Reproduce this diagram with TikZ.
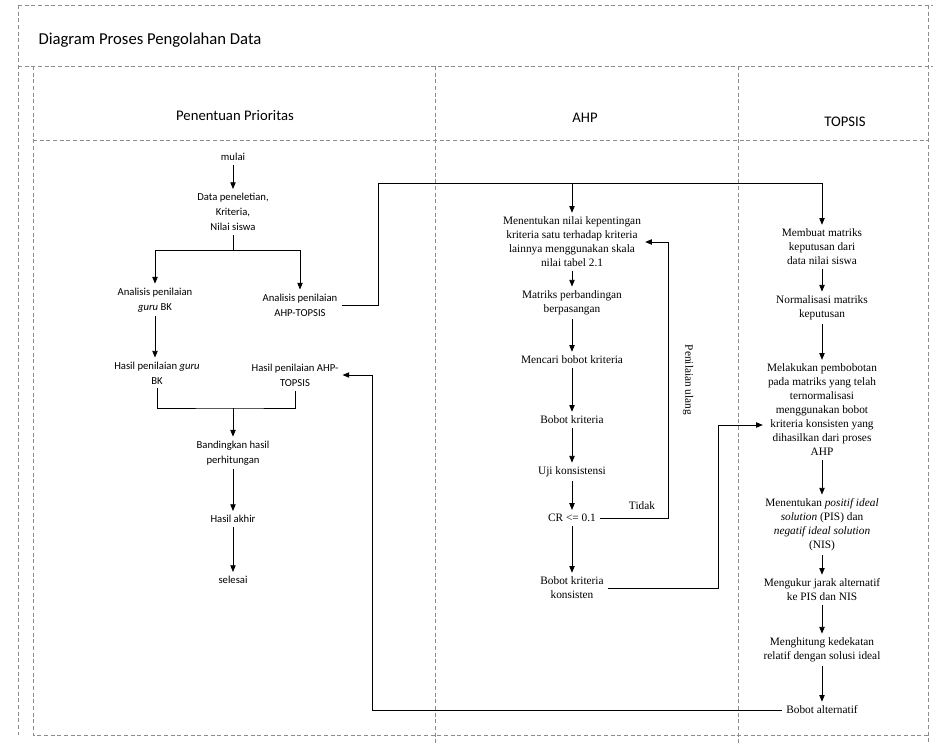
\documentclass[tikz,border=0pt]{standalone}
\usepackage{fontspec}
\setmainfont{Liberation Serif}
\setsansfont{Carlito}
\usepackage{tikz}
\usetikzlibrary{arrows.meta,positioning,calc}

\begin{document}
\begin{tikzpicture}[x=0.75pt, y=-0.75pt,
        lane/.style={black!45, densely dashed, line width=0.4pt},
        hdr/.style={font=\sffamily\fontsize{11}{13}\selectfont, inner sep=1pt},
        lbl/.style={font=\sffamily\fontsize{8}{11.25}\selectfont, align=center, inner sep=3pt},
        stp/.style={font=\fontsize{8.5}{10.5}\selectfont, align=center, inner sep=3pt},
        arr/.style={-{Triangle[length=5pt,width=4pt]}, line width=0.6pt},
        lnk/.style={line width=0.6pt}
      ]
        \useasboundingbox (0,0) rectangle (933,744);
        % swimlane frame
        \draw[lane] (18,5) -- (933,5);
        \draw[lane] (18,5) -- (18,735);
        \draw[lane] (18,66) -- (933,66);
        \draw[lane] (33,66) -- (33,735) -- (928,735);
        \draw[lane] (33,140) -- (928,140);
        \draw[lane] (435,66) -- (435,744);
        \draw[lane] (738,66) -- (738,744);
        \draw[lane] (928,5) -- (928,744);
        \node[hdr, font=\sffamily\fontsize{12.5}{15}\selectfont, anchor=west] (judul) at (37,40) {Diagram Proses Pengolahan Data};
        \node[hdr] (hprio) at (235,116) {Penentuan Prioritas};
        \node[hdr] (hahp) at (585,118) {AHP};
        \node[hdr] (htop) at (845,122) {TOPSIS};

        % Penentuan Prioritas
        \node[lbl] (mulai) at (233,157) {mulai};
        \node[lbl] (data) at (233,212) {Data peneletian,\\Kriteria,\\Nilai siswa};
        \node[lbl] (anbk) at (155,300) {Analisis penilaian\\\textit{guru} BK};
        \node[lbl] (anahp) at (300,305) {Analisis penilaian\\AHP-TOPSIS};
        \node[lbl] (hsbk) at (157,373) {Hasil penilaian \textit{guru}\\BK};
        \node[lbl] (hsahp) at (295,375) {Hasil penilaian AHP-\\TOPSIS};
        \node[lbl] (banding) at (233,453) {Bandingkan hasil\\perhitungan};
        \node[lbl] (akhir) at (233,519) {Hasil akhir};
        \node[lbl] (selesai) at (233,580) {selesai};
        \coordinate (fork) at (233,250);
        \coordinate (join) at (233,408);
        \draw[arr] (mulai) -- (data);
        \draw[lnk] (data) -- (fork);
        \draw[arr] (fork) -| (anbk);
        \draw[arr] (fork) -| (anahp);
        \draw[arr] (anbk.south) -- (anbk.south |- hsbk.north);
        \draw[lnk] (hsbk.south) |- (join) -| (hsahp.south);
        \draw[arr] (join) -- (banding);
        \draw[arr] (banding) -- (akhir);
        \draw[arr] (akhir) -- (selesai);

        % AHP
        \node[stp] (kep) at (572,242) {Menentukan nilai kepentingan\\kriteria satu terhadap kriteria\\lainnya menggunakan skala\\nilai tabel 2.1};
        \node[stp] (mpb) at (572,303) {Matriks perbandingan\\berpasangan};
        \node[stp] (cari) at (572,360) {Mencari bobot kriteria};
        \node[stp] (bobot) at (572,420) {Bobot kriteria};
        \node[stp] (uji) at (572,472) {Uji konsistensi};
        \node[stp] (cr) at (572,518) {CR <= 0.1};
        \node[stp] (konsisten) at (572,588) {Bobot kriteria\\konsisten};
        \draw[arr] (kep) -- (mpb);
        \draw[arr] (mpb) -- (cari);
        \draw[arr] (cari) -- (bobot);
        \draw[arr] (bobot) -- (uji);
        \draw[arr] (uji) -- (cr);
        \draw[arr] (cr) -- (konsisten);
        % loop back when CR too large
        \coordinate (loopc) at (668,518);
        \draw[arr] (cr.east) -- (loopc) |- (kep.east);
        \node[stp] (tidak) at (642,506) {Tidak};
        \node[stp, rotate=-90] (ulang) at (688,380) {Penilaian ulang};

        % TOPSIS
        \node[stp] (buat) at (822,247) {Membuat matriks\\keputusan dari\\data nilai siswa};
        \node[stp] (norm) at (822,308) {Normalisasi matriks\\keputusan};
        \node[stp] (bobotan) at (822,410) {Melakukan pembobotan\\pada matriks yang telah\\ternormalisasi\\menggunakan bobot\\kriteria konsisten yang\\dihasilkan dari proses\\AHP};
        \node[stp] (pis) at (822,525) {Menentukan \textit{positif ideal}\\\textit{solution} (PIS) dan\\\textit{negatif ideal solution}\\(NIS)};
        \node[stp] (jarak) at (822,590) {Mengukur jarak alternatif\\ke PIS dan NIS};
        \node[stp] (dekat) at (822,650) {Menghitung kedekatan\\relatif dengan solusi ideal};
        \node[stp] (balt) at (822,710) {Bobot alternatif};
        \draw[arr] (buat) -- (norm);
        \draw[arr] (norm) -- (bobotan);
        \draw[arr] (bobotan) -- (pis);
        \draw[arr] (pis) -- (jarak);
        \draw[arr] (jarak) -- (dekat);
        \draw[arr] (dekat) -- (balt);

        % links between lanes
        \coordinate (ttop) at (378,183);
        \coordinate (kin) at (718,425);
        \coordinate (rx) at (372,700);
        \draw[lnk] (anahp.east) -| (ttop) -- (ttop -| buat);
        \draw[arr] (ttop -| kep) -- (kep);
        \draw[arr] (ttop -| buat) -- (buat);
        \draw[arr] (konsisten.east) -| (kin) -- (kin -| bobotan.west);
        \draw[arr] (balt.west) -- (balt.west -| rx) |- (hsahp.east);
      \end{tikzpicture}
\end{document}
